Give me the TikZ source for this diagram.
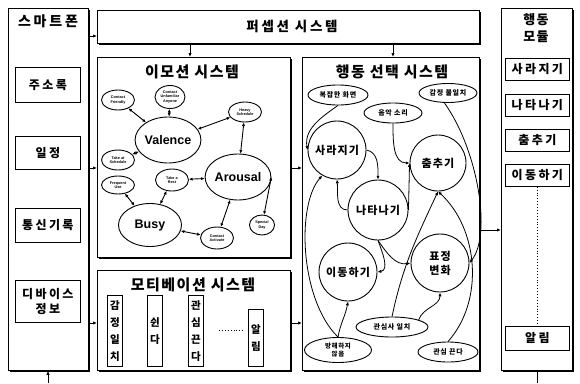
\documentclass[tikz,border=0pt]{standalone}
\usepackage{fontspec}
\setmainfont{Liberation Sans}
\newfontfamily\kr{Noto Sans CJK KR}[LetterSpace=10]
\newfontfamily\krw{Noto Sans CJK KR}[LetterSpace=20]
\usetikzlibrary{arrows.meta,shadows,shapes.geometric}
\begin{document}
\begin{tikzpicture}[x=1pt,y=1pt,
  shd/.style={drop shadow={shadow xshift=1.5pt,shadow yshift=-1.5pt,fill=black,opacity=1}},
  bigbox/.style={draw,line width=0.8pt,fill=white,shd,anchor=north west,inner sep=0pt},
  inbox/.style={draw,line width=0.7pt,fill=white,drop shadow={shadow xshift=0.9pt,shadow yshift=-0.9pt,fill=black,opacity=1},anchor=north west,inner sep=0pt},
  ttl/.style={font=\kr\bfseries\fontsize{14}{16}\selectfont},
  side/.style={font=\krw\bfseries\fontsize{12}{15}\selectfont,align=center},
  vert/.style={font=\kr\bfseries\fontsize{10.5}{17}\selectfont,align=center},
  sm/.style={ellipse,draw,line width=0.9pt,inner sep=0pt,minimum width=33pt,minimum height=20pt,font=\bfseries\fontsize{3.8}{4.3}\selectfont,align=center},
  bigel/.style={ellipse,draw,line width=0.9pt,inner sep=0pt,minimum width=63pt,minimum height=46pt,font=\bfseries\fontsize{12.5}{14}\selectfont},
  circ/.style={circle,draw,line width=0.9pt,inner sep=0pt,minimum size=58pt,font=\kr\bfseries\fontsize{11}{14}\selectfont,align=center},
  kel/.style={ellipse,draw,line width=0.9pt,inner sep=0pt,minimum width=60pt,minimum height=20pt,font=\kr\bfseries\fontsize{7}{9}\selectfont,align=center},
  arr/.style={-{Latex[length=4pt,width=3.4pt]},line width=0.8pt},
  bi/.style={{Latex[length=3.6pt,width=3.2pt]}-{Latex[length=3.6pt,width=3.2pt]},line width=0.9pt},
  crv/.style={-{Latex[length=3.8pt,width=3.2pt]},line width=0.8pt}
]
\useasboundingbox (0,0) rectangle (580,-383);

% main boxes
\node[bigbox,minimum width=80pt,minimum height=362pt] (phone) at (8,-8) {};
\node[bigbox,minimum width=382pt,minimum height=33pt] (perc) at (97,-10) {};
\node[bigbox,minimum width=193pt,minimum height=200pt] (emo) at (97,-57) {};
\node[bigbox,minimum width=193pt,minimum height=100pt] (moti) at (97,-270) {};
\node[bigbox,minimum width=177pt,minimum height=313pt] (beh) at (302,-57) {};
\node[bigbox,minimum width=71pt,minimum height=362pt] (mod) at (501,-8) {};

% titles
\node[ttl,font=\krw\bfseries\fontsize{14}{16}\selectfont] (phoneT) at (48,-21) {스마트폰};
\node[ttl,font=\krw\bfseries\fontsize{13.5}{16}\selectfont] (percT) at (292,-26) {퍼셉션 시스템};
\node[ttl,font=\kr\bfseries\fontsize{15}{17}\selectfont] (emoT) at (192,-72) {이모션 시스템};
\node[ttl,font=\kr\bfseries\fontsize{15}{17}\selectfont] (behT) at (392,-72) {행동 선택 시스템};
\node[ttl,font=\kr\bfseries\fontsize{15}{17}\selectfont] (motiT) at (193,-285) {모티베이션 시스템};
\node[side,font=\kr\bfseries\fontsize{13}{17}\selectfont] (modT) at (536,-28) {행동\\모듈};

% smartphone inner boxes
\node[inbox,minimum width=65pt,minimum height=35pt] (addr) at (15,-67) {};
\node[side] (addrT) at (addr.center) {주소록};
\node[inbox,minimum width=65pt,minimum height=33pt] (sched) at (15,-136) {};
\node[side] (schedT) at (sched.center) {일정};
\node[inbox,minimum width=65pt,minimum height=34pt] (comm) at (15,-208) {};
\node[side] (commT) at (comm.center) {통신기록};
\node[inbox,minimum width=65pt,minimum height=42pt] (dev) at (15,-280) {};
\node[side] (devT) at (dev.center) {디바이스\\정보};

% module inner boxes
\node[inbox,minimum width=64pt,minimum height=22pt] (m1) at (505,-58) {};
\node[side] (m1T) at (m1.center) {사라지기};
\node[inbox,minimum width=64pt,minimum height=22pt] (m2) at (505,-94) {};
\node[side] (m2T) at (m2.center) {나타나기};
\node[inbox,minimum width=64pt,minimum height=22pt] (m3) at (505,-129) {};
\node[side] (m3T) at (m3.center) {춤추기};
\node[inbox,minimum width=64pt,minimum height=22pt] (m4) at (505,-164) {};
\node[side] (m4T) at (m4.center) {이동하기};
\node[inbox,minimum width=64pt,minimum height=24pt] (m5) at (505,-326) {};
\node[side] (m5T) at (m5.center) {알림};
\draw[dotted,line width=0.9pt] (m4.south) -- (m5.north);

% motivation inner boxes
\node[inbox,minimum width=15pt,minimum height=71pt] (v1) at (107,-295) {};
\node[vert] (v1T) at (v1.center) {감\\정\\일\\치};
\node[inbox,minimum width=15pt,minimum height=71pt] (v2) at (147,-295) {};
\node[vert] (v2T) at (v2.center) {쉰\\다};
\node[inbox,minimum width=15pt,minimum height=71pt] (v3) at (188,-295) {};
\node[vert] (v3T) at (v3.center) {관\\심\\끈\\다};
\node[inbox,minimum width=15pt,minimum height=57pt] (v4) at (248,-309) {};
\node[vert] (v4T) at (v4.center) {알\\림};
\coordinate (d1) at (219,-330);
\coordinate (d2) at (244,-330);
\draw[dotted,line width=0.9pt] (d1) -- (d2);

% emotion system graph
\node[sm] (cf) at (118,-100) {Contact\\Friendly};
\node[sm,minimum width=30pt,minimum height=23pt] (cu) at (170,-97) {Contact\\Unfamiliar\\Anyone};
\node[sm] (hs) at (245,-112) {Heavy\\Schedule};
\node[bigel] (val) at (168,-140) {Valence};
\node[sm] (ts) at (118,-160) {Take at\\Schedule};
\node[bigel] (aro) at (238,-177) {Arousal};
\node[sm,minimum height=18pt] (fu) at (118,-185) {Frequent\\Use};
\node[sm,minimum height=22pt] (tr) at (172,-180) {Take a\\Rest};
\node[bigel,minimum height=43pt] (busy) at (150,-225) {Busy};
\node[sm,minimum width=25pt] (sd) at (262,-225) {Special\\Day};
\node[sm,minimum height=22pt] (ca) at (217,-238) {Contact\\Activate};
\draw[bi] (cf) -- (val);
\draw[bi] (cu) -- (val);
\draw[bi] (val) -- (hs);
\draw[bi] (val) -- (ts);
\draw[bi] (hs) -- (aro);
\draw[bi] (tr) -- (aro);
\draw[bi] (tr) -- (busy);
\draw[bi] (fu) -- (busy);
\draw[bi] (busy) -- (ca);
\draw[bi] (ca) -- (aro);
\draw[bi] (aro.east) -- (sd);

% behaviour selection graph
\node[kel] (bok) at (338,-95) {복잡한 화면};
\node[kel,minimum width=58pt] (mus) at (393,-113) {음악 소리};
\node[kel,minimum width=58pt,minimum height=19pt] (gam) at (448,-93) {감정 불일치};
\node[circ] (sa) at (337,-150) {사라지기};
\node[circ,minimum size=56pt] (chum) at (438,-163) {춤추기};
\node[circ,minimum size=60pt] (na) at (378,-210) {나타나기};
\node[circ] (idong) at (348,-272) {이동하기};
\node[circ] (pyo) at (440,-263) {표정\\변화};
\node[kel,minimum width=72pt] (gil) at (392,-327) {관심사 일치};
\node[kel,minimum width=67pt,minimum height=25pt,font=\kr\bfseries\fontsize{6.5}{8}\selectfont] (bang) at (338,-350) {방해하지\\않음};
\node[kel] (gkk) at (448,-352) {관심 끈다};

\draw[crv] (bok.south) to[out=215,in=100] (sa.west);
\draw[crv] (sa.east) to[out=-10,in=90] (na.north);
\draw[crv] (na.west) to[out=180,in=275] (sa.south);
\draw[crv] (bang.north) .. controls (300,-300) and (296,-205) .. (sa.240);
\draw[crv] (mus.south) to[out=270,in=180] (chum.west);
\draw[crv] (na.east) -- (chum.west);
\draw[crv] (gil.north) to[out=78,in=245] (chum.south);
\draw[crv] (gkk.north) .. controls (485,-300) and (478,-228) .. (chum.south);
\draw[crv] (gam.250) .. controls (478,-150) and (492,-235) .. (pyo.east);
\draw[crv] (gil.15) to[out=70,in=270] (pyo.south);
\draw[crv] (na.south) to[out=-55,in=190] (pyo.west);
\draw[crv] (na.south) to[out=-70,in=10] (idong.east);
\draw[crv] (bang.north) to[out=80,in=260] (idong.south);

% system connectors
\coordinate (yA) at (0,-36);
\coordinate (yB) at (0,-168);
\coordinate (yC) at (0,-323);
\coordinate (yD) at (0,-230);
\coordinate (xA) at (190,0);
\coordinate (xB) at (393,0);
\draw[arr] (phone.east |- yA) -- (perc.west |- yA);
\draw[arr] (phone.east |- yB) -- (emo.west |- yB);
\draw[arr] (phone.east |- yC) -- (moti.west |- yC);
\draw[arr] (perc.south -| xA) -- (emo.north -| xA);
\draw[arr] (perc.south -| xB) -- (beh.north -| xB);
\draw[arr] (emo.east |- yB) -- (beh.west |- yB);
\draw[arr] (moti.east |- yC) -- (beh.west |- yC);
\draw[arr] (beh.east |- yD) -- (mod.west |- yD);
\coordinate (bot1) at (48,-383);
\coordinate (bot2) at (537,-383);
\draw[arr] (bot1) -- (phone.south -| bot1);
\draw[line width=0.8pt] (mod.south -| bot2) -- (bot2);
\end{tikzpicture}
\end{document}
